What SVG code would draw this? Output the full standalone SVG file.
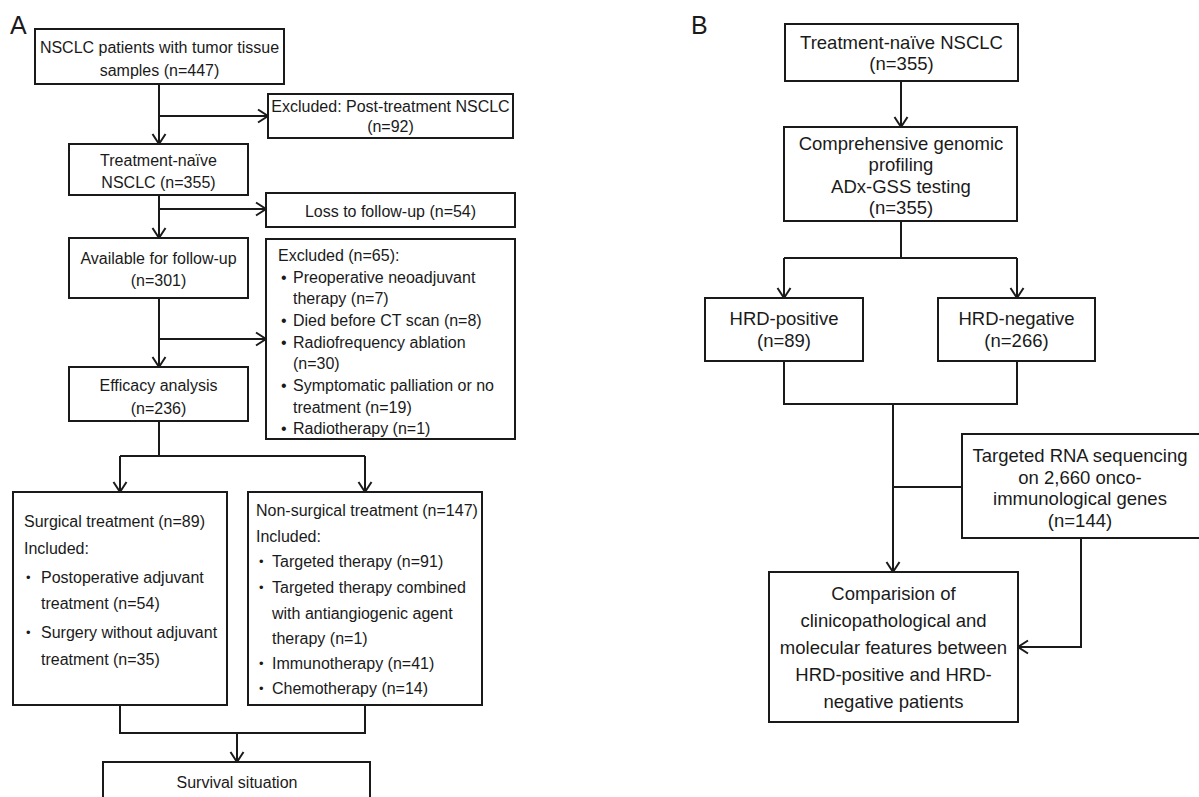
<svg xmlns="http://www.w3.org/2000/svg" width="1199" height="797" viewBox="0 0 1199 797">
<style>
rect{fill:#fff;stroke:#1a1a1a;stroke-width:2}
text{font-family:"Liberation Sans",Arial,sans-serif;fill:#1a1a1a;dominant-baseline:central}
.a{font-size:16px}
.b{font-size:18.5px}
.c{text-anchor:middle}
.lbl{font-size:25px}
.bu{font-size:13px}
#connectors path{fill:none;stroke:#1a1a1a;stroke-width:2}
</style>
<defs>
<marker id="arr" markerUnits="userSpaceOnUse" orient="auto" markerWidth="14" markerHeight="16" refX="0" refY="0" viewBox="-12 -8 14 16" overflow="visible">
<path d="M-10,-6.5 L0,0 L-10,6.5" fill="none" stroke="#1a1a1a" stroke-width="2"/>
</marker>
</defs>
<rect x="0" y="0" width="1199" height="797" style="fill:#fff;stroke:none"/>
<text class="lbl" x="10" y="25">A</text>
<text class="lbl" x="691" y="25">B</text>

<g id="connectors">
<path d="M159,84 V144" marker-end="url(#arr)"/>
<path d="M159,116 H268" marker-end="url(#arr)"/>
<path d="M159,195 V238" marker-end="url(#arr)"/>
<path d="M159,209 H266" marker-end="url(#arr)"/>
<path d="M159,298 V367" marker-end="url(#arr)"/>
<path d="M159,339 H266" marker-end="url(#arr)"/>
<path d="M159,421 V456 M120,456 H365"/>
<path d="M120,456 V492" marker-end="url(#arr)"/>
<path d="M365,456 V492" marker-end="url(#arr)"/>
<path d="M120,705 V733 H365 V705"/>
<path d="M237,733 V762" marker-end="url(#arr)"/>
<path d="M901,81 V127" marker-end="url(#arr)"/>
<path d="M901,221 V258 M784,258 H1017"/>
<path d="M784,258 V298" marker-end="url(#arr)"/>
<path d="M1017,258 V298" marker-end="url(#arr)"/>
<path d="M784,361 V404 H1017 V361"/>
<path d="M893,404 V572" marker-end="url(#arr)"/>
<path d="M893,487 H962"/>
<path d="M1081,538 V647 H1018" marker-end="url(#arr)"/>
</g>

<g id="a-start">
<rect x="35" y="29" width="249" height="55"/>
<text class="a c" x="159.5" y="47">NSCLC patients with tumor tissue</text>
<text class="a c" x="159.5" y="70">samples (n=447)</text>
</g>
<g id="a-excl-post">
<rect x="268" y="94" width="245" height="44"/>
<text class="a c" x="390.5" y="106">Excluded: Post-treatment NSCLC</text>
<text class="a c" x="390.5" y="126">(n=92)</text>
</g>
<g id="a-naive">
<rect x="69" y="144" width="179" height="51"/>
<text class="a c" x="158.5" y="160">Treatment-naïve</text>
<text class="a c" x="158.5" y="182">NSCLC (n=355)</text>
</g>
<g id="a-loss">
<rect x="266" y="193" width="249" height="34"/>
<text class="a c" x="390.5" y="211">Loss to follow-up (n=54)</text>
</g>
<g id="a-available">
<rect x="69" y="238" width="179" height="60"/>
<text class="a c" x="158.5" y="258">Available for follow-up</text>
<text class="a c" x="158.5" y="280">(n=301)</text>
</g>
<g id="a-excl65">
<rect x="266" y="239" width="249" height="200"/>
<text class="a" x="278" y="255">Excluded (n=65):</text>
<text class="a" x="281" y="277">•</text><text class="a" x="293" y="277">Preoperative neoadjuvant</text>
<text class="a" x="293" y="298">therapy (n=7)</text>
<text class="a" x="281" y="320">•</text><text class="a" x="293" y="320">Died before CT scan (n=8)</text>
<text class="a" x="281" y="342">•</text><text class="a" x="293" y="342">Radiofrequency ablation</text>
<text class="a" x="293" y="363">(n=30)</text>
<text class="a" x="281" y="385">•</text><text class="a" x="293" y="385">Symptomatic palliation or no</text>
<text class="a" x="293" y="407">treatment (n=19)</text>
<text class="a" x="281" y="428">•</text><text class="a" x="293" y="428">Radiotherapy (n=1)</text>
</g>
<g id="a-efficacy">
<rect x="69" y="367" width="179" height="54"/>
<text class="a c" x="158.5" y="385">Efficacy analysis</text>
<text class="a c" x="158.5" y="408">(n=236)</text>
</g>
<g id="a-surgical">
<rect x="13" y="492" width="214" height="213"/>
<text class="a" x="24" y="521">Surgical treatment (n=89)</text>
<text class="a" x="24" y="548">Included:</text>
<text class="bu" x="26" y="577">•</text><text class="a" x="41" y="577">Postoperative adjuvant</text>
<text class="a" x="41" y="603">treatment (n=54)</text>
<text class="bu" x="26" y="632">•</text><text class="a" x="41" y="632">Surgery without adjuvant</text>
<text class="a" x="41" y="659">treatment (n=35)</text>
</g>
<g id="a-nonsurgical">
<rect x="248" y="492" width="234" height="213"/>
<text class="a" x="256" y="510">Non-surgical treatment (n=147)</text>
<text class="a" x="256" y="536">Included:</text>
<text class="bu" x="259" y="561">•</text><text class="a" x="272" y="561">Targeted therapy (n=91)</text>
<text class="bu" x="259" y="587">•</text><text class="a" x="272" y="587">Targeted therapy combined</text>
<text class="a" x="272" y="613">with antiangiogenic agent</text>
<text class="a" x="272" y="638">therapy (n=1)</text>
<text class="bu" x="259" y="663">•</text><text class="a" x="272" y="663">Immunotherapy (n=41)</text>
<text class="bu" x="259" y="688">•</text><text class="a" x="272" y="688">Chemotherapy (n=14)</text>
</g>
<g id="a-survival">
<rect x="103" y="762" width="267" height="60"/>
<text class="a c" x="237" y="782">Survival situation</text>
</g>

<g id="b-naive">
<rect x="785" y="24" width="233" height="57"/>
<text class="b c" x="901.5" y="42">Treatment-naïve NSCLC</text>
<text class="b c" x="901.5" y="63">(n=355)</text>
</g>
<g id="b-cgp">
<rect x="784" y="127" width="233" height="94"/>
<text class="b c" x="901" y="143">Comprehensive genomic</text>
<text class="b c" x="901" y="164">profiling</text>
<text class="b c" x="901" y="186">ADx-GSS testing</text>
<text class="b c" x="901" y="207">(n=355)</text>
</g>
<g id="b-hrdpos">
<rect x="705" y="298" width="158" height="63"/>
<text class="b c" x="784" y="318">HRD-positive</text>
<text class="b c" x="784" y="340">(n=89)</text>
</g>
<g id="b-hrdneg">
<rect x="938" y="298" width="157" height="63"/>
<text class="b c" x="1016.5" y="318">HRD-negative</text>
<text class="b c" x="1016.5" y="340">(n=266)</text>
</g>
<g id="b-rna">
<rect x="962" y="434" width="240" height="104"/>
<text class="b c" x="1080" y="455">Targeted RNA sequencing</text>
<text class="b c" x="1080" y="477">on 2,660 onco-</text>
<text class="b c" x="1080" y="498">immunological genes</text>
<text class="b c" x="1080" y="520">(n=144)</text>
</g>
<g id="b-compare">
<rect x="769" y="572" width="249" height="150"/>
<text class="b c" x="893.5" y="593">Comparision of</text>
<text class="b c" x="893.5" y="620">clinicopathological and</text>
<text class="b c" x="893.5" y="647">molecular features between</text>
<text class="b c" x="893.5" y="674">HRD-positive and HRD-</text>
<text class="b c" x="893.5" y="701">negative patients</text>
</g>
</svg>
